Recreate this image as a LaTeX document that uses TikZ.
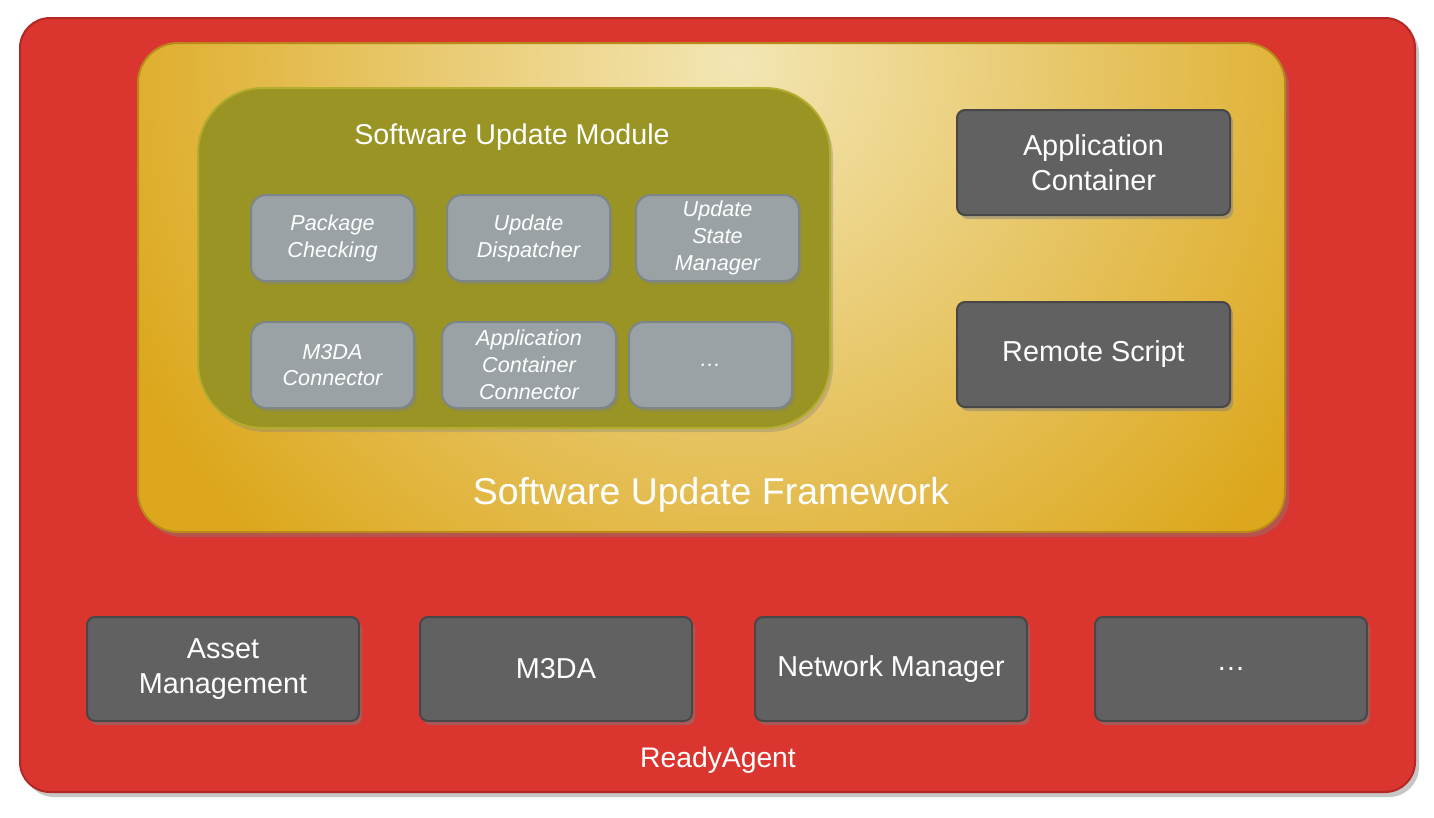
\documentclass[tikz,border=0pt]{standalone}
\usepackage{fontspec}
\setmainfont{Liberation Sans}
\usetikzlibrary{shadows}
\definecolor{agentRed}{HTML}{DA352F}
\definecolor{agentRim}{HTML}{B32822}
\definecolor{frameGold}{HTML}{DCA71C}
\definecolor{frameLight}{HTML}{F3E6B4}
\definecolor{frameRim}{HTML}{B8891A}
\definecolor{moduleOlive}{HTML}{9A9424}
\definecolor{moduleRim}{HTML}{B4AC2C}
\definecolor{partGray}{HTML}{9AA2A6}
\definecolor{partRim}{HTML}{7C8589}
\definecolor{coreGray}{HTML}{616161}
\definecolor{coreRim}{HTML}{474747}
\begin{document}
\begin{tikzpicture}[every node/.style={rectangle, align=center, text=white}, line width=.4mm,
	agentbox/.style={draw=agentRim, fill=agentRed, rounded corners=.6cm, drop shadow={shadow xshift=.08cm, shadow yshift=-.1cm, opacity=.45}},
	framebox/.style={draw=frameRim, fill=frameGold, rounded corners=.8cm, drop shadow={shadow xshift=.08cm, shadow yshift=-.1cm, opacity=.4},
		path picture={\shade[inner color=frameLight, outer color=frameGold] ([xshift=.5cm, yshift=-.4cm]path picture bounding box.north) circle (13.5cm);}},
	modulebox/.style={draw=moduleRim, fill=moduleOlive, rounded corners=1.3cm, drop shadow={shadow xshift=.06cm, shadow yshift=-.08cm, opacity=.35}},
	partbox/.style={draw=partRim, fill=partGray, rounded corners=.3cm, minimum height=1.72cm, minimum width=3.26cm,
		font=\fontsize{12.3}{15.3}\selectfont\itshape, drop shadow={shadow xshift=.05cm, shadow yshift=-.07cm, opacity=.4}},
	corebox/.style={draw=coreRim, fill=coreGray, rounded corners=.16cm, minimum width=5.46cm, minimum height=2.1cm,
		font=\fontsize{16.4}{19.7}\selectfont, drop shadow={shadow xshift=.06cm, shadow yshift=-.08cm, opacity=.5}}]
	\useasboundingbox (0,0) rectangle (28.68,-16.36);
	\node[agentbox, minimum width=27.9cm, minimum height=15.48cm] (readyAgent) at (14.35,-8.10) {};
	\node[framebox, minimum width=22.94cm, minimum height=9.78cm] (framework) at (14.23,-5.75) {};
	\node[modulebox, minimum width=12.64cm, minimum height=6.8cm] (updateModule) at (10.28,-5.16) {};
	\node[font=\fontsize{16.3}{19.6}\selectfont] (updateModuleText) at (10.24,-2.74) {Software Update Module};
	\node[partbox] (packageChecking) at (6.65,-4.76) {Package\\Checking};
	\node[partbox] (updateDispatcher) at (10.57,-4.76) {Update\\Dispatcher};
	\node[partbox] (stateManager) at (14.35,-4.76) {Update\\State\\Manager};
	\node[partbox] (m3daConnector) at (6.65,-7.30) {M3DA\\Connector};
	\node[partbox, minimum width=3.48cm] (containerConnector) at (10.58,-7.30) {Application\\Container\\Connector};
	\node[partbox] (moreParts) at (14.21,-7.30) {\ldots};
	\node[corebox] (appContainer) at (21.87,-3.25) {Application\\Container};
	\node[corebox] (remoteScript) at (21.87,-7.09) {Remote Script};
	\node[font=\fontsize{21.3}{25}\selectfont] (frameworkText) at (14.22,-9.9) {Software Update Framework};
	\node[corebox, minimum width=5.44cm, minimum height=2.08cm] (assetManagement) at (4.46,-13.38) {Asset\\Management};
	\node[corebox, minimum width=5.44cm, minimum height=2.08cm] (m3da) at (11.12,-13.38) {M3DA};
	\node[corebox, minimum width=5.44cm, minimum height=2.08cm] (networkManager) at (17.82,-13.38) {Network Manager};
	\node[corebox, minimum width=5.44cm, minimum height=2.08cm] (moreServices) at (24.62,-13.38) {\ldots};
	\node[font=\fontsize{16.1}{19.3}\selectfont] (readyAgentText) at (14.36,-15.2) {ReadyAgent};
\end{tikzpicture}
\end{document}
